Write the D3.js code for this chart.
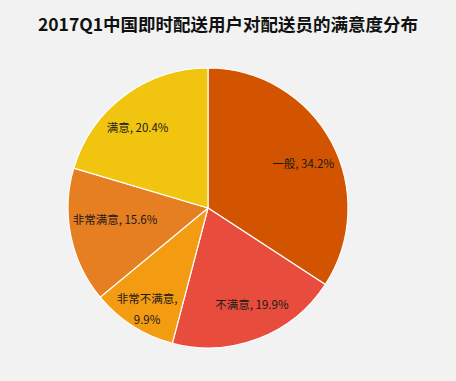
<!DOCTYPE html>
<html><head><meta charset="utf-8">
<script src="https://cdn.jsdelivr.net/npm/d3@7"></script>
<style>
html,body{margin:0;padding:0;background:#f2f2f2;}
svg{display:block;}
</style></head>
<body><svg id="chart" width="456" height="381"></svg>
<script>
const title = "2017Q1中国即时配送用户对配送员的满意度分布";
const categories = ["一般", "不满意", "非常不满意", "非常满意", "满意"];
const values = [34.2, 19.9, 9.9, 15.6, 20.4];
const colors = ["#d35400", "#e74c3c", "#f39c12", "#e67e22", "#f1c40f"];

const W = 456, H = 381;
const cx = 208, cy = 208, R = 140;
const svg = d3.select("#chart");
svg.append("rect").attr("width", W).attr("height", H).attr("fill", "#f2f2f2");

svg.append("text").attr("x", 228).attr("y", 31).attr("text-anchor", "middle")
  .attr("font-family", "'Noto Sans CJK SC', sans-serif").attr("font-weight", "bold")
  .attr("font-size", 17.5).attr("fill", "#111").text(title);

const data = categories.map((c, i) => ({name: c, value: values[i], color: colors[i]}));
const pie = d3.pie().value(d => d.value).sort(null);
const arcs = pie(data);
const arc = d3.arc().innerRadius(0).outerRadius(R);
const g = svg.append("g").attr("transform", `translate(${cx},${cy})`);
g.selectAll("path").data(arcs).join("path")
  .attr("d", arc).attr("fill", d => d.data.color)
  .attr("stroke", "#fff").attr("stroke-width", 1.2);

// label placement: radius fraction and small angular nudge (degrees)
const labelFrac = [0.75, 0.76, 0.846, 0.67, 0.76];
const labelShift = [3.4, -3.3, -1.6, 4.1, -4.7];
arcs.forEach((a, i) => {
  const lr = R * labelFrac[i];
  const ang = (a.startAngle + a.endAngle) / 2 + labelShift[i] * Math.PI / 180;
  const x = lr * Math.sin(ang), y = -lr * Math.cos(ang);
  const t = g.append("text").attr("text-anchor", "middle")
    .attr("font-family", "'Noto Sans CJK SC', sans-serif").attr("font-size", 11.5)
    .attr("fill", "#1a1a1a");
  if (a.data.name === "非常不满意") {
    t.append("tspan").attr("x", x).attr("y", y - 10.5).attr("dy", "0.35em").text(a.data.name + ",");
    t.append("tspan").attr("x", x).attr("y", y + 10.5).attr("dy", "0.35em").text(a.data.value.toFixed(1) + "%");
  } else {
    t.attr("x", x).attr("y", y).attr("dy", "0.35em").text(a.data.name + ", " + a.data.value.toFixed(1) + "%");
  }
});
</script></body></html>
